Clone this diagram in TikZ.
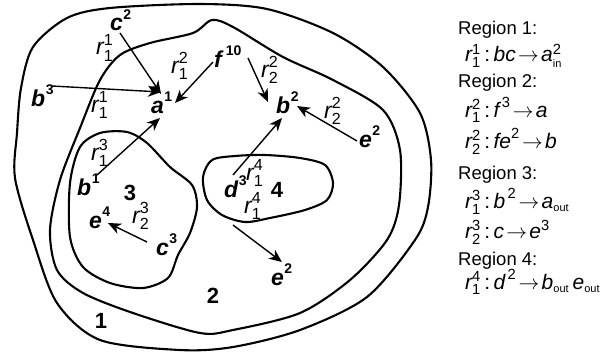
\documentclass[tikz,border=0pt]{standalone}
\usepackage{amsmath}
\usepackage{fontspec}
\setmainfont{Liberation Sans}
\usetikzlibrary{arrows.meta}

% species with multiplicity: bold italic letter, raised bold digit
\newcommand\spc[2]{#1\kern0.5pt\raisebox{0.5em}{\fontsize{14}{14}\selectfont\bfseries\upshape #2}}
% rule name r with upper and lower index
\newcommand\rr[2]{$\textit{r}^{\text{#1}}_{\text{#2}}$}
% tight arrow for the rule list
\newcommand\yields{\mathrel{\mkern-3mu\rightarrow\mkern-3mu}}
% small target marks (in, out)
\newcommand\tgt[1]{\text{\fontsize{11}{11}\selectfont #1}}

\tikzset{
  membrane/.style={line width=2.1pt, line join=round},
  flow/.style={line width=1.4pt, -{Stealth[length=13pt,width=11pt,inset=4pt]}},
  species/.style={anchor=base west, inner sep=0pt, font=\fontsize{23}{25}\selectfont\bfseries\itshape},
  rulename/.style={anchor=base west, inner sep=0pt, font=\fontsize{23}{24}\selectfont},
  regnum/.style={inner sep=0pt, font=\fontsize{22}{24}\selectfont\bfseries},
  heading/.style={anchor=base west, inner sep=0pt, font=\fontsize{18.5}{20}\selectfont},
  formula/.style={anchor=base west, inner sep=0pt, font=\fontsize{21}{22}\selectfont},
}

\begin{document}
\begin{tikzpicture}[x=1pt,y=-1pt]
\useasboundingbox (0,0) rectangle (604,353);

% skin membrane (region 1)
\draw[membrane] plot[smooth cycle] coordinates {
  (15,178) (17,133) (21,88) (33,47) (67,18) (110,8) (200,4) (267,9)
  (333,33) (383,67) (420,113) (431,160) (428,207) (415,240) (367,297)
  (300,330) (233,347) (180,350) (100,340) (57,303) (33,240)};
% region 2
\draw[membrane] plot[smooth cycle] coordinates {
  (60,180) (80,128) (100,80) (120,55) (150,43) (193,33) (212,20) (233,27)
  (283,57) (333,80) (383,110) (400,150) (399,205) (387,240) (350,280)
  (300,313) (233,330) (200,333) (133,313) (83,293) (57,270) (50,230)};
% region 3
\draw[membrane] plot[smooth cycle] coordinates {
  (70,183) (80,147) (100,133) (127,132) (147,143) (170,167) (192,185)
  (197,207) (190,233) (178,255) (168,278) (143,288) (110,283) (83,267) (70,237)};
% region 4
\draw[membrane] plot[smooth cycle] coordinates {
  (203,177) (212,160) (235,156) (265,155) (300,158) (325,165) (333,183)
  (327,200) (305,210) (270,218) (245,222) (222,215) (207,200)};

% region numbers
\node[regnum] (n1) at (101,321) {1};
\node[regnum] (n2) at (213,296) {2};
\node[regnum] (n3) at (130,193) {3};
\node[regnum] (n4) at (277,190) {4};

% objects
\node[species] (c2)  at (110,31)  {\spc{c}{2}};
\node[species] (b3)  at (31,106)  {\spc{b}{3}};
\node[species] (a1)  at (151,113) {\spc{a}{1}};
\node[species] (f10) at (214,67)  {f\kern4pt\raisebox{0.5em}{\fontsize{14}{14}\selectfont\bfseries\upshape 10}};
\node[species] (b2)  at (276,113) {\spc{b}{2}};
\node[species] (e2u) at (359,147) {\spc{e}{2}};
\node[species] (d3)  at (224,197) {\spc{d}{3}};
\node[species] (e2l) at (271,285) {\spc{e}{2}};
\node[species] (b1)  at (77,195)  {\spc{b}{1}};
\node[species] (e4)  at (89,228)  {\spc{e}{4}};
\node[species] (c3)  at (156,255) {\spc{c}{3}};

% rule names
\node[rulename] (r11a) at (96,55)   {\rr{1}{1}};
\node[rulename] (r11b) at (91,112)  {\rr{1}{1}};
\node[rulename] (r12)  at (171,73)  {\rr{2}{1}};
\node[rulename] (r22a) at (261,77)  {\rr{2}{2}};
\node[rulename] (r22b) at (324,118) {\rr{2}{2}};
\node[rulename] (r13)  at (91,160)  {\rr{3}{1}};
\node[rulename] (r14a) at (246,180) {\rr{4}{1}};
\node[rulename] (r14b) at (244,213) {\rr{4}{1}};
\node[rulename] (r23)  at (132,223) {\rr{3}{2}};

% point on membrane 4 where its products leave
\coordinate (out4) at (233,225);

% rule applications
\draw[flow] ([shift={(10,2)}]c2.base west)   -- ([shift={(10,-19)}]a1.base west);
\draw[flow] ([shift={(21,-20)}]b3.base west) -- ([shift={(10,-21)}]a1.base west);
\draw[flow] ([shift={(-1,-5)}]f10.base west) -- ([shift={(24,-10)}]a1.base west);
\draw[flow] ([shift={(20,-20)}]b1.base west) -- ([shift={(9,5)}]a1.base west);
\draw[flow] ([shift={(34,-9)}]f10.base west) -- ([shift={(-8,-11)}]b2.base west);
\draw[flow] ([shift={(-2,-6)}]e2u.base west) -- ([shift={(21,-7)}]b2.base west);
\draw[flow] ([shift={(9,-22)}]d3.base west)  -- ([shift={(6,5)}]b2.base west);
\draw[flow] (out4) -- ([shift={(11,-23)}]e2l.base west);
\draw[flow] ([shift={(-9,-13)}]c3.base west) -- ([shift={(19,-5)}]e4.base west);

% rule list
\node[heading] (h1) at (458,35)  {Region 1:};
\node[formula] (l1) at (465,62)  {$\textit{r}^{\text{1}}_{\text{1}}\,\text{:}\,\textit{bc}\yields\textit{a}^{\text{2}}_{\tgt{in}}$};
\node[heading] (h2) at (458,87)  {Region 2:};
\node[formula] (l2) at (465,117) {$\textit{r}^{\text{2}}_{\text{1}}\,\text{:}\,\textit{f}^{\,\text{3}}\yields\textit{a}$};
\node[formula] (l3) at (465,148) {$\textit{r}^{\text{2}}_{\text{2}}\,\text{:}\,\textit{fe}^{\text{2}}\yields\textit{b}$};
\node[heading] (h3) at (458,179) {Region 3:};
\node[formula] (l4) at (465,208) {$\textit{r}^{\text{3}}_{\text{1}}\,\text{:}\,\textit{b}^{\,\text{2}}\yields\textit{a}_{\tgt{out}}$};
\node[formula] (l5) at (465,238) {$\textit{r}^{\text{3}}_{\text{2}}\,\text{:}\,\textit{c}\yields\textit{e}^{\text{3}}$};
\node[heading] (h4) at (458,265) {Region 4:};
\node[formula] (l6) at (465,289) {$\textit{r}^{\text{4}}_{\text{1}}\,\text{:}\,\textit{d}^{\,\text{2}}\yields\textit{b}_{\tgt{out}}\,\textit{e}_{\tgt{out}}$};
\end{tikzpicture}
\end{document}
